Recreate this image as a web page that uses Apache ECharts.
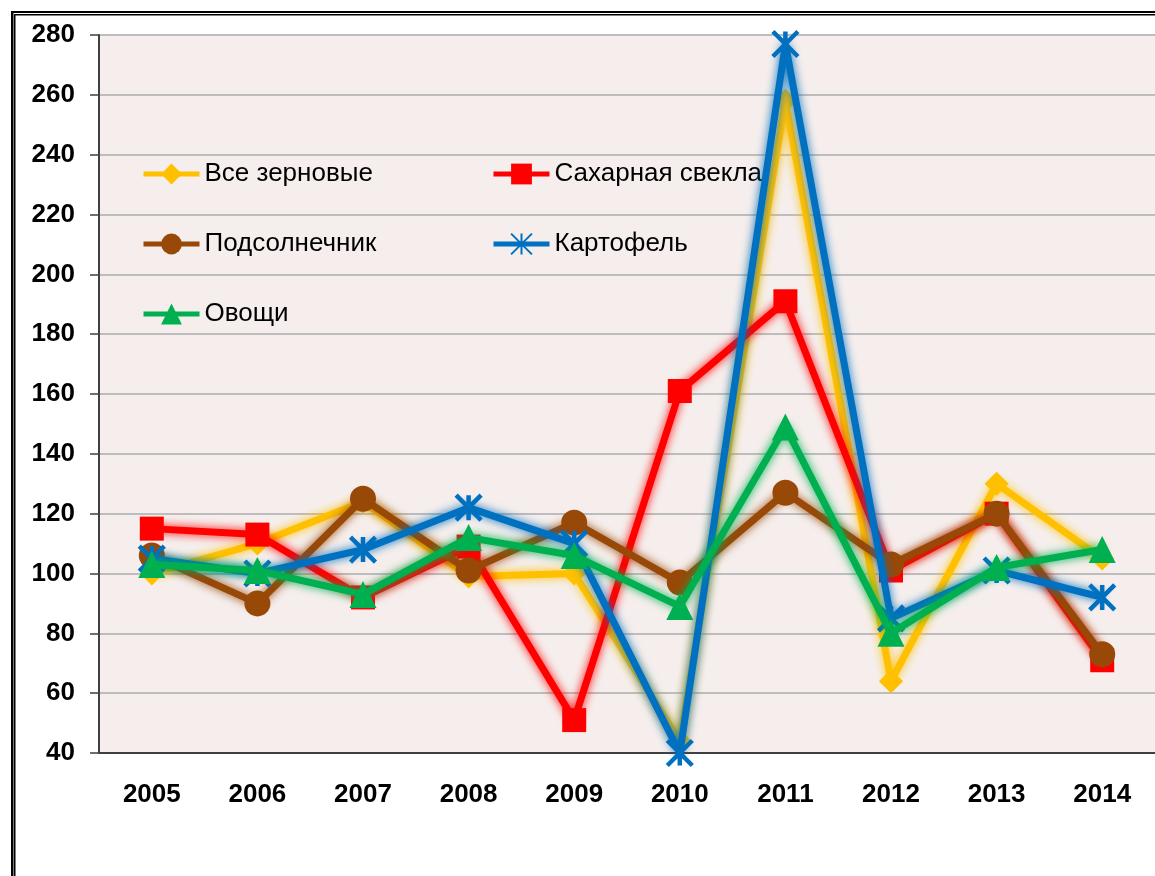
<!DOCTYPE html>
<html>
<head>
<meta charset="utf-8">
<script src="https://cdn.jsdelivr.net/npm/echarts@6/dist/echarts.min.js"></script>
<style>
  html, body { margin: 0; padding: 0; background: #fff; }
  #chart { width: 1155px; height: 876px; }
</style>
</head>
<body>
<div id="chart"></div>
<script>
var years = ['2005', '2006', '2007', '2008', '2009', '2010', '2011', '2012', '2013', '2014'];
var yTicks = [40, 60, 80, 100, 120, 140, 160, 180, 200, 220, 240, 260, 280];

// индексы по годам
var grain = [100, 110, 124, 99, 100, 44, 258, 64, 130, 105];
var sugarBeet = [115, 113, 92, 109, 51, 161, 191, 101, 120, 71];
var sunflower = [106, 90, 125, 101, 117, 97, 127, 103, 120, 73];
var potato = [105, 100, 108, 122, 110, 40, 277, 85, 101, 92];
var vegetables = [103, 101, 93, 112, 106, 89, 149, 80, 102, 108];

var names = ['Все зерновые', 'Сахарная свекла', 'Подсолнечник', 'Картофель', 'Овощи'];
var colors = ['#ffc000', '#ff0000', '#984807', '#0070c0', '#00b050'];

var starPath = 'path://M0,0L10,10M10,0L0,10M5,0L5,10';

function makeSeries(idx, data, symbol, size, extraItem) {
  var item = { color: colors[idx] };
  if (extraItem) item = extraItem;
  return {
    name: names[idx],
    type: 'line',
    data: data,
    symbol: symbol,
    symbolSize: size,
    lineStyle: {
      color: colors[idx],
      width: 7,
      shadowColor: colors[idx],
      shadowBlur: 10
    },
    itemStyle: item,
    emphasis: { disabled: true },
    z: 2 + idx
  };
}

var legendCommon = {
  orient: 'vertical',
  top: 156,
  itemWidth: 56,
  itemHeight: 26,
  itemGap: 44,
  lineStyle: { width: 5, shadowBlur: 0 },
  textStyle: { fontSize: 26, color: '#000' }
};

var chart = echarts.init(document.getElementById('chart'));

var option = {
  animation: false,
  textStyle: { fontFamily: 'Arial, "Liberation Sans", sans-serif' },
  color: colors,
  graphic: [
    { type: 'rect', shape: { x: 11, y: 11, width: 1160, height: 2 }, style: { fill: '#000' } },
    { type: 'rect', shape: { x: 14, y: 14, width: 1160, height: 1.5 }, style: { fill: '#000' } },
    { type: 'rect', shape: { x: 11, y: 11, width: 2.5, height: 880 }, style: { fill: '#000' } },
    { type: 'rect', shape: { x: 14, y: 14, width: 1.5, height: 880 }, style: { fill: '#000' } }
  ],
  legend: [
    Object.assign({}, legendCommon, { left: 136, data: [names[0], names[2], names[4]] }),
    Object.assign({}, legendCommon, { left: 486, data: [names[1], names[3]] })
  ],
  grid: {
    left: 99,
    top: 35,
    width: 1060,
    height: 718,
    show: true,
    backgroundColor: '#f5eeec',
    borderWidth: 0
  },
  xAxis: {
    type: 'category',
    data: years,
    boundaryGap: true,
    axisLine: { lineStyle: { color: '#404040', width: 2 } },
    axisTick: { length: 9, lineStyle: { color: '#404040', width: 1.5 } },
    axisLabel: { fontSize: 26, fontWeight: 'bold', color: '#000', margin: 29 }
  },
  yAxis: {
    type: 'value',
    min: yTicks[0],
    max: yTicks[yTicks.length - 1],
    interval: 20,
    axisLine: { show: true, lineStyle: { color: '#404040', width: 2 } },
    axisTick: { show: true, length: 9, lineStyle: { color: '#404040', width: 1.5 } },
    axisLabel: { fontSize: 26, fontWeight: 'bold', color: '#000', margin: 24 },
    splitLine: { lineStyle: { color: '#bdbdbd', width: 2 } }
  },
  series: [
    makeSeries(0, grain, 'diamond', 24),
    makeSeries(1, sugarBeet, 'rect', 24),
    makeSeries(2, sunflower, 'circle', 26),
    makeSeries(3, potato, starPath, 25, { color: 'rgba(0,0,0,0)', borderColor: colors[3], borderWidth: 4.5 }),
    makeSeries(4, vegetables, 'triangle', 27)
  ]
};

chart.setOption(option);
</script>
</body>
</html>
